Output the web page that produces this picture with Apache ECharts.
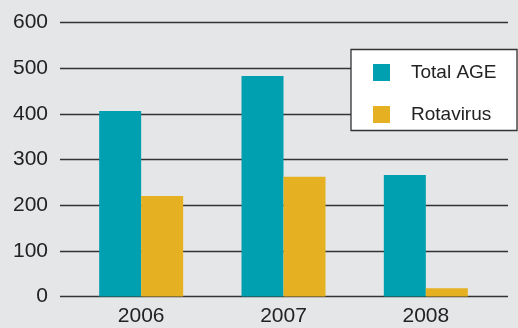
<!DOCTYPE html>
<html>
<head>
<meta charset="utf-8">
<script src="https://cdn.jsdelivr.net/npm/echarts@6/dist/echarts.min.js"></script>
<style>html,body{margin:0;padding:0;background:#e5e6e8}#c{width:518px;height:328px}</style>
</head>
<body>
<div id="c"></div>
<script>
var categories = ['2006', '2007', '2008'];
var totalAGE = [406, 483, 266];
var rotavirus = [220, 262, 18];
var seriesNames = ['Total AGE', 'Rotavirus'];
var yTicks = { min: 0, max: 600, interval: 100 };

var FONT = '"Liberation Sans", Arial, sans-serif';
var chart = echarts.init(document.getElementById('c'), null, { renderer: 'canvas' });
chart.setOption({
  backgroundColor: '#e5e6e8',
  animation: false,
  grid: [
    { left: 60, right: 10, top: 22.5, bottom: 31.5 },
    { left: 70, right: 21, top: 22.5, bottom: 31.5 }
  ],
  xAxis: [
    { gridIndex: 0, type: 'category', data: categories, show: false },
    { gridIndex: 1, type: 'category', data: categories,
      axisLine: { show: false }, axisTick: { show: false },
      axisLabel: { fontFamily: FONT, fontSize: 21, color: '#222', margin: 9 } }
  ],
  yAxis: [
    { gridIndex: 0, type: 'value', min: yTicks.min, max: yTicks.max, interval: yTicks.interval,
      axisLine: { show: false }, axisTick: { show: false },
      axisLabel: { fontFamily: FONT, fontSize: 21, color: '#222', margin: 12 },
      splitLine: { lineStyle: { color: '#333', width: 1.3 } } },
    { gridIndex: 1, type: 'value', min: yTicks.min, max: yTicks.max, interval: yTicks.interval, show: false }
  ],
  legend: {
    orient: 'vertical', left: 373, top: 63, padding: 0, z: 20,
    itemWidth: 17, itemHeight: 17, itemGap: 23, icon: 'rect', selectedMode: false,
    textStyle: { fontFamily: FONT, fontSize: 19, color: '#222', lineHeight: 11, padding: [0, 0, 6, 16] },
    data: seriesNames
  },
  graphic: [{
    type: 'rect', z: 10, shape: { x: 351, y: 49.5, width: 166, height: 81 },
    style: { fill: '#fff', stroke: '#333', lineWidth: 1.3 }
  }],
  series: [
    { name: seriesNames[0], type: 'bar', xAxisIndex: 1, yAxisIndex: 1, data: totalAGE,
      barWidth: 42, barGap: 0, itemStyle: { color: '#00a0b0' } },
    { name: seriesNames[1], type: 'bar', xAxisIndex: 1, yAxisIndex: 1, data: rotavirus,
      barWidth: 42, barGap: 0, itemStyle: { color: '#e5b122' } }
  ]
});
</script>
</body>
</html>
